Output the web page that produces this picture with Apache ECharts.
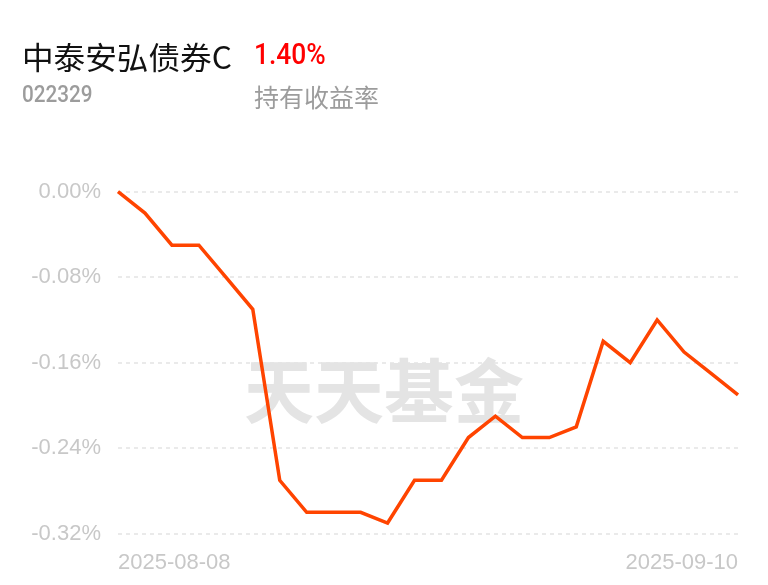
<!DOCTYPE html>
<html>
<head>
<meta charset="utf-8">
<script src="https://cdn.jsdelivr.net/npm/echarts@6/dist/echarts.min.js"></script>
<style>
html,body{margin:0;padding:0;background:#fff;}
#chart{width:768px;height:585px;}
</style>
</head>
<body>
<div id="chart"></div>
<script>
var fundName = '中泰安弘债券C';
var fundCode = '022329';
var holdReturn = '1.40%';
var holdReturnLabel = '持有收益率';
var watermark = '天天基金';

var dates = ['2025-08-08','2025-08-11','2025-08-12','2025-08-13','2025-08-14','2025-08-15',
  '2025-08-18','2025-08-19','2025-08-20','2025-08-21','2025-08-22',
  '2025-08-25','2025-08-26','2025-08-27','2025-08-28','2025-08-29',
  '2025-09-01','2025-09-02','2025-09-03','2025-09-04','2025-09-05',
  '2025-09-08','2025-09-09','2025-09-10'];
var values = [0.00,-0.02,-0.05,-0.05,-0.08,-0.11,
  -0.27,-0.30,-0.30,-0.30,-0.31,
  -0.27,-0.27,-0.23,-0.21,-0.23,
  -0.23,-0.22,-0.14,-0.16,-0.12,
  -0.15,-0.17,-0.19];
var yMin = -0.32, yMax = 0, yStep = 0.08;

var chart = echarts.init(document.getElementById('chart'), null, {renderer:'canvas'});
var lastIdx = dates.length - 1;
chart.setOption({
  animation: false,
  backgroundColor: '#ffffff',
  grid: {left:118, right:30, top:191.7, bottom:51.3, containLabel:false},
  xAxis: {
    type: 'category',
    data: dates,
    boundaryGap: false,
    axisLine: {show:false},
    axisTick: {show:false},
    splitLine: {show:false},
    axisLabel: {
      interval: function(i){ return i === 0 || i === lastIdx; },
      showMinLabel: true, showMaxLabel: true,
      alignMinLabel: 'left', alignMaxLabel: 'right',
      color: '#c8c8c8', fontSize: 22, fontFamily: 'Liberation Sans, Arial, sans-serif',
      margin: 18
    }
  },
  yAxis: {
    type: 'value',
    min: yMin, max: yMax, interval: yStep,
    axisLine: {show:false},
    axisTick: {show:false},
    splitLine: {show:true, lineStyle:{color:'#e3e3e3', type:[4,4], width:1.5}},
    axisLabel: {
      formatter: function(v){ return (Math.abs(v) < 1e-9 ? 0 : v).toFixed(2) + '%'; },
      color: '#c8c8c8', fontSize: 22, fontFamily: 'Liberation Sans, Arial, sans-serif',
      margin: 17
    }
  },
  graphic: [
    {type:'text', x:22, y:57.5, scaleX:1.02, z:10, style:{text:fundName, fill:'#111', font:'31px "Noto Sans CJK SC"', verticalAlign:'middle', align:'left'}},
    {type:'text', x:254, y:56, scaleX:0.88, z:10, style:{text:holdReturn, fill:'#ff0000', font:'500 30px Roboto', verticalAlign:'middle', align:'left'}},
    {type:'text', x:22, y:96.5, scaleX:0.9, z:10, style:{text:fundCode, fill:'#9c9c9c', font:'500 23px Roboto', verticalAlign:'middle', align:'left'}},
    {type:'text', x:254, y:97.5, z:10, style:{text:holdReturnLabel, fill:'#9c9c9c', font:'25px "Noto Sans CJK SC"', verticalAlign:'middle', align:'left'}},
    {type:'text', x:384, y:391, z:-10, style:{text:watermark, fill:'#e4e4e4', font:'bold 70px "Noto Sans CJK SC"', verticalAlign:'middle', align:'center'}}
  ],
  series: [{
    type: 'line',
    data: values,
    symbol: 'none',
    z: 5,
    lineStyle: {color:'#ff4400', width:3.5, join:'miter'}
  }]
});
</script>
</body>
</html>
